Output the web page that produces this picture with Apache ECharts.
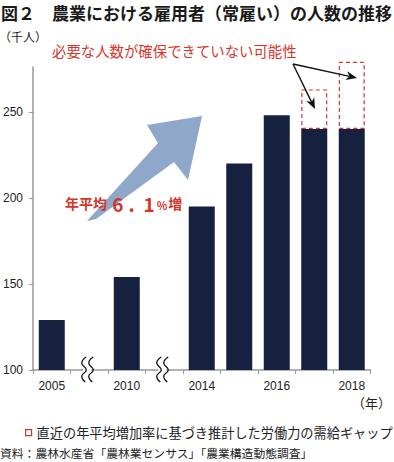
<!DOCTYPE html>
<html><head><meta charset="utf-8">
<script src="https://cdn.jsdelivr.net/npm/echarts@6/dist/echarts.min.js"></script>
<style>html,body{margin:0;padding:0;background:#fff}#c{width:394px;height:462px}</style>
</head><body><div id="c"></div>
<script>
// ---- data ----
const categories = ['2005', 'break1', '2010', 'break2', '2014', '2015', '2016', '2017', '2018'];
const tickLabels = ['2005', '', '2010', '', '2014', '', '2016', '', '2018'];
const employed = [129, null, 154, null, 195, 220, 248, 240, 240];
const shortfall = [null, null, null, null, null, null, null, 23, 39];
const yTicks = [100, 150, 200, 250];
const breakCategories = ['break1', 'break2'];
const titleText = '図２　農業における雇用者（常雇い）の人数の推移';
const unitText = '（千人）';
const yearUnitText = '（年）';
const noteText = '必要な人数が確保できていない可能性';
const growthText = ['年平均 ', '6', '.', '1', '%', '増'];
const gapName = '直近の年平均増加率に基づき推計した労働力の需給ギャップ';
const sourceText = '資料：農林水産省「農林業センサス」「農業構造動態調査」';

const JP = '"Noto Sans CJK JP", sans-serif';
const RED = '#d5352d';

const chart = echarts.init(document.getElementById('c'), null, {renderer: 'svg'});

function baseOption() {
  return {
    animation: false,
    backgroundColor: '#fff',
    grid: {left: 33, right: 23.5, top: 67, bottom: 92, containLabel: false},
    legend: {
      left: 20, top: 421, padding: 5, itemWidth: 6, itemHeight: 6, selectedMode: false,
      textStyle: {fontSize: 13.2, color: '#222', fontFamily: JP},
      itemStyle: {color: '#fff', borderColor: RED, borderWidth: 1.2},
      data: [{name: gapName, icon: 'rect',
        itemStyle: {color: '#fff', borderColor: RED, borderWidth: 1.2, borderType: 'solid'}}]
    },
    xAxis: {
      type: 'category', data: categories, boundaryGap: true,
      axisLine: {lineStyle: {color: '#999', width: 1.5}},
      axisTick: {show: true, interval: 0, alignWithLabel: false, length: 4, lineStyle: {color: '#999', width: 1}},
      axisLabel: {interval: 0, margin: 10, fontSize: 12, color: '#222', fontFamily: 'Liberation Sans',
        formatter: (v, i) => tickLabels[i]}
    },
    yAxis: {
      type: 'value', min: 100, max: 276, interval: 50,
      splitLine: {show: false},
      axisLine: {show: true, lineStyle: {color: '#999', width: 1.5}},
      axisTick: {show: true, length: 4, customValues: yTicks, lineStyle: {color: '#999'}},
      axisLabel: {margin: 10, fontSize: 12, color: '#222', fontFamily: 'Liberation Sans', customValues: yTicks}
    },
    series: [
      {name: '常雇い', type: 'bar', stack: 'total', barWidth: 26, data: employed,
        itemStyle: {color: '#15213e'}, z: 2},
      {name: gapName, type: 'bar', stack: 'total', barWidth: 26, data: shortfall, clip: false,
        itemStyle: {color: 'rgba(255,255,255,0)', borderColor: RED, borderWidth: 1.2, borderType: [4, 3]}, z: 3}
    ]
  };
}

chart.setOption(baseOption());

function arrow(x1, y1, x2, y2, len, w) {
  const dx = x2 - x1, dy = y2 - y1, L = Math.hypot(dx, dy);
  const ux = dx / L, uy = dy / L, nx = -uy, ny = ux;
  const bx = x2 - ux * len, by = y2 - uy * len;
  const kx = x2 - ux * len * 0.7, ky = y2 - uy * len * 0.7;
  return [
    {type: 'line', z: 50, shape: {x1, y1, x2: kx, y2: ky}, style: {stroke: '#111', lineWidth: 1.4}},
    {type: 'polygon', z: 50, shape: {points: [[x2, y2], [bx + nx * w, by + ny * w], [kx, ky], [bx - nx * w, by - ny * w]]},
      style: {fill: '#111'}}
  ];
}

const axisY = chart.convertToPixel({yAxisIndex: 0}, 100);
const g = [];
g.push({type: 'text', z: 60, style: {text: titleText, x: 1, y: 12, verticalAlign: 'middle', fill: '#1a1a1a', font: 'bold 17px ' + JP}});
g.push({type: 'text', z: 60, style: {text: unitText, x: -1, y: 36, verticalAlign: 'middle', fill: '#222', font: '12px ' + JP}});
g.push({type: 'text', z: 60, style: {text: noteText, x: 52, y: 50, verticalAlign: 'middle', fill: RED, font: '14.4px ' + JP}});
g.push({type: 'text', z: 60, style: {text: yearUnitText, x: 352, y: 402, verticalAlign: 'middle', fill: '#222', font: '13px ' + JP}});
g.push({type: 'text', z: 60, style: {text: sourceText, x: 0, y: 452, verticalAlign: 'middle', fill: '#222', font: '11.8px ' + JP}});
g.push({type: 'text', z: 60, style: {
  text: '{a|' + growthText[0] + '}{b|' + growthText[1] + '}{d|' + growthText[2] + '}{b|' + growthText[3] + '}{c|' + growthText[4] + '}{a|' + growthText[5] + '}',
  x: 65, y: 203, verticalAlign: 'middle',
  rich: {
    a: {fontSize: 14, fontWeight: 'bold', fill: RED, fontFamily: JP, verticalAlign: 'middle'},
    b: {fontSize: 19, fontWeight: 'bold', fill: RED, fontFamily: JP, verticalAlign: 'middle', padding: [0, 1, 0, 2]},
    d: {fontSize: 19, fontWeight: 'bold', fill: RED, fontFamily: JP, verticalAlign: 'middle', padding: [0, 7, 0, 4]},
    c: {fontSize: 11, fontWeight: 'bold', fill: RED, fontFamily: JP, verticalAlign: 'middle', padding: [3, 1, 0, 1]}
  }}});
g.push({type: 'polygon', z: 40, shape: {points: [[87, 221], [158, 143], [147, 125], [202, 116], [188, 180], [174, 162], [96, 219]]},
  style: {fill: '#8fa7c9'}});
g.push(...arrow(293, 64, 315, 109, 11, 4.5));
g.push(...arrow(293, 64, 357, 78, 11, 4.5));
breakCategories.forEach(name => {
  const c = chart.convertToPixel({xAxisIndex: 0}, name) - 2;
  g.push({type: 'rect', z: 55, shape: {x: c - 4, y: axisY - 3, width: 8, height: 6}, style: {fill: '#fff'}});
  [-3.5, 3.5].forEach(off => {
    const x = c + off;
    g.push({type: 'polyline', z: 56, shape: {smooth: 0.5,
      points: [[x + 2.5, axisY - 13], [x - 2, axisY - 7], [x + 2.5, axisY], [x - 2, axisY + 6], [x + 1.5, axisY + 12]]},
      style: {stroke: '#111', lineWidth: 1.3, fill: null}});
  });
});
chart.setOption({graphic: g});
</script>
</body></html>
